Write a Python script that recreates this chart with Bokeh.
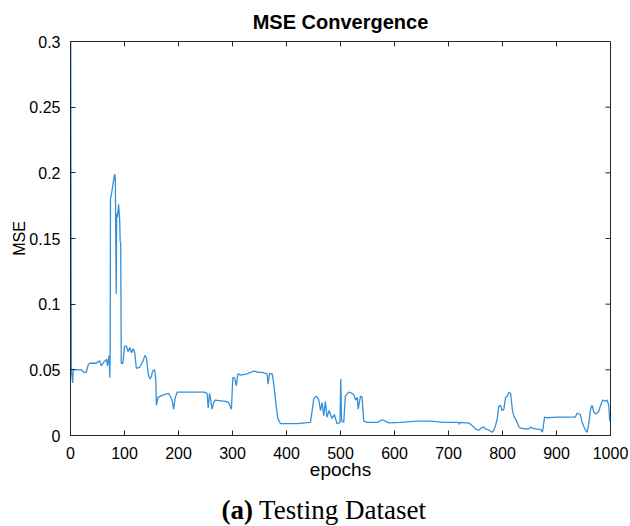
from bokeh.plotting import figure
from bokeh.models import Range1d, FixedTicker
from bokeh.layouts import column
from bokeh.core.properties import value
from bokeh.embed import file_html
from bokeh.resources import INLINE

epochs = [0, 0.5, 1.5, 4, 5, 12, 20, 25, 29, 33, 36, 48, 54, 57, 62, 67, 68.5, 71.6, 72.8, 73.5,
          74, 76, 80, 82, 83, 84.6, 85.5, 87, 89, 91, 92, 93, 94, 97, 100, 103.7, 106.8, 109.9,
          113, 116, 119, 122, 128, 134.6, 137.7, 140.7, 143.8, 147, 150, 152, 156, 158, 159,
          162, 166.7, 172, 182, 188, 191, 194, 197.5, 220, 247, 253, 255, 257.4, 259, 262, 265,
          268, 287, 293, 298, 300.6, 303.7, 307, 310, 315, 327, 339.5, 349, 355, 364, 366, 368.5,
          373.5, 376.5, 381, 384, 389, 420, 444.4, 447.5, 450.6, 455.5, 460, 463, 466, 469, 472,
          475, 479, 484, 488.6, 493.5, 499, 500.5, 502, 503, 506, 509, 515.4, 521.6, 524.7, 528,
          531, 532.7, 537, 540, 543, 549, 568, 577, 583, 589.5, 611, 642, 667, 691, 719, 720, 722,
          738, 744, 750, 756, 762, 765, 768.5, 775, 781, 784, 787, 790, 793, 796, 799.4, 802.5,
          805.6, 809, 812, 815, 818.5, 821.6, 825, 831, 840, 849, 852, 856, 862, 871, 874, 878,
          883, 901, 926, 935, 938, 944, 947, 951, 954, 957, 960, 963, 966, 969, 972, 978, 981,
          985.5, 990.5, 993.6, 996.7, 998.6, 1000]
mse = [0.300, 0.300, 0.050, 0.040, 0.050, 0.050, 0.050, 0.048, 0.048, 0.054, 0.055, 0.055, 0.057,
       0.053, 0.056, 0.058, 0.053, 0.061, 0.044, 0.064,
       0.180, 0.184, 0.195, 0.199, 0.195, 0.108, 0.169, 0.166, 0.176, 0.165, 0.148, 0.146, 0.055,
       0.055, 0.068, 0.068, 0.064, 0.067,
       0.063, 0.066, 0.063, 0.051, 0.052, 0.057, 0.061, 0.059, 0.047, 0.043, 0.045, 0.049, 0.050,
       0.042, 0.023,
       0.029, 0.030, 0.031, 0.032, 0.027, 0.020, 0.029, 0.033, 0.033, 0.033, 0.032, 0.021, 0.032,
       0.029, 0.020, 0.025,
       0.027, 0.026, 0.025, 0.020, 0.044, 0.044, 0.038, 0.047, 0.046, 0.047, 0.049, 0.048, 0.048,
       0.047, 0.039, 0.047,
       0.047, 0.039, 0.022, 0.013, 0.009, 0.009, 0.010, 0.019, 0.028, 0.030, 0.027, 0.019, 0.025,
       0.015, 0.026,
       0.014, 0.019, 0.013, 0.016, 0.009, 0.010, 0.043, 0.011, 0.011, 0.010, 0.030, 0.033, 0.032,
       0.031, 0.027,
       0.029, 0.020, 0.030, 0.029, 0.011, 0.010, 0.010, 0.012, 0.011, 0.0096, 0.010, 0.011, 0.011,
       0.010, 0.010, 0.0085, 0.010,
       0.0095, 0.0075, 0.005, 0.004, 0.006, 0.0065, 0.005, 0.004, 0.0025, 0.004, 0.0075, 0.012,
       0.022, 0.023, 0.019, 0.020,
       0.029, 0.030, 0.033, 0.032, 0.019, 0.014, 0.012, 0.006, 0.005, 0.005, 0.0065, 0.0055, 0.005,
       0.0045, 0.0025, 0.014,
       0.0135, 0.014, 0.014, 0.014, 0.017, 0.016, 0.0105, 0.0065, 0.004, 0.0025, 0.010, 0.020,
       0.023, 0.018, 0.0165, 0.018, 0.022,
       0.027, 0.026, 0.027, 0.023, 0.011, 0.011]

x_ticks = [0, 100, 200, 300, 400, 500, 600, 700, 800, 900, 1000]
y_ticks = [0, 0.05, 0.1, 0.15, 0.2, 0.25, 0.3]
y_tick_labels = ["0", "0.05", "0.1", "0.15", "0.2", "0.25", "0.3"]

title_text = "MSE Convergence"
x_label = "epochs"
y_label = "MSE"
caption_bold = "(a)"
caption_text = "Testing Dataset"

X0, X1 = 0, 1000
Y0, Y1 = 0, 0.3
LEFT, RIGHT, TOP, BOTTOM = 70, 20, 40, 55
W, H = 630, 490
CAP_H = 36
frame_w = W - LEFT - RIGHT
frame_h = H - TOP - BOTTOM
TICK = 5
AX = "#262626"

p = figure(width=W, height=H, output_backend="svg", toolbar_location=None,
           x_range=Range1d(X0, X1), y_range=Range1d(Y0, Y1),
           min_border_left=LEFT, min_border_right=RIGHT, min_border_top=TOP,
           min_border_bottom=BOTTOM, title=title_text)
p.background_fill_color = "white"
p.border_fill_color = "white"
p.grid.visible = False
p.outline_line_color = AX
p.outline_line_width = 1

p.title.align = "center"
p.title.text_font = "Liberation Sans"
p.title.text_font_style = "bold"
p.title.text_font_size = "20px"
p.title.text_color = "black"
p.title.standoff = 17

p.line(epochs, mse, line_color="#3590da", line_width=1.3)

# mirrored inward ticks on the top and right edges of the box
dx = TICK * (X1 - X0) / frame_w
dy = TICK * (Y1 - Y0) / frame_h
p.segment(x0=x_ticks, y0=[Y1] * len(x_ticks), x1=x_ticks, y1=[Y1 - dy] * len(x_ticks),
          line_color=AX, line_width=1)
p.segment(x0=[X1] * len(y_ticks), y0=y_ticks, x1=[X1 - dx] * len(y_ticks), y1=y_ticks,
          line_color=AX, line_width=1)

font = "Liberation Sans"
for ax in (p.xaxis[0], p.yaxis[0]):
    ax.major_tick_in = TICK
    ax.major_tick_out = 0
    ax.minor_tick_in = 0
    ax.minor_tick_out = 0
    ax.axis_line_color = AX
    ax.major_tick_line_color = AX
    ax.major_label_text_font = font
    ax.major_label_text_font_size = "16px"
    ax.major_label_text_color = "black"
    ax.axis_label_text_font = font
    ax.axis_label_text_font_style = "normal"
    ax.axis_label_text_color = "black"

p.xaxis[0].ticker = FixedTicker(ticks=x_ticks)
p.yaxis[0].ticker = FixedTicker(ticks=y_ticks)
p.yaxis[0].major_label_overrides = {t: l for t, l in zip(y_ticks, y_tick_labels)}
p.xaxis[0].major_label_standoff = 11
p.yaxis[0].major_label_standoff = 10
p.xaxis[0].axis_label = x_label
p.xaxis[0].axis_label_text_font_size = "19px"
p.xaxis[0].axis_label_standoff = -3
p.yaxis[0].axis_label = y_label
p.yaxis[0].axis_label_text_font_size = "16px"
p.yaxis[0].axis_label_standoff = -2

# caption strip below the chart
cap = figure(width=W, height=CAP_H, output_backend="svg", toolbar_location=None,
             x_range=Range1d(0, W), y_range=Range1d(0, CAP_H),
             x_axis_location=None, y_axis_location=None,
             min_border=0, outline_line_color=None)
cap.grid.visible = False
cap.background_fill_color = "white"
cap.border_fill_color = "white"
cap.text(x=[213], y=[17], text=[caption_bold], text_font=value("Liberation Serif"),
         text_font_style="bold", text_font_size="27px", text_align="right",
         text_baseline="middle", text_color="black")
cap.text(x=[220], y=[17], text=[caption_text], text_font=value("Liberation Serif"),
         text_font_size="27px", text_align="left", text_baseline="middle", text_color="black")

layout = column(p, cap, spacing=0)
open("out.html", "w").write(file_html(layout, INLINE))
